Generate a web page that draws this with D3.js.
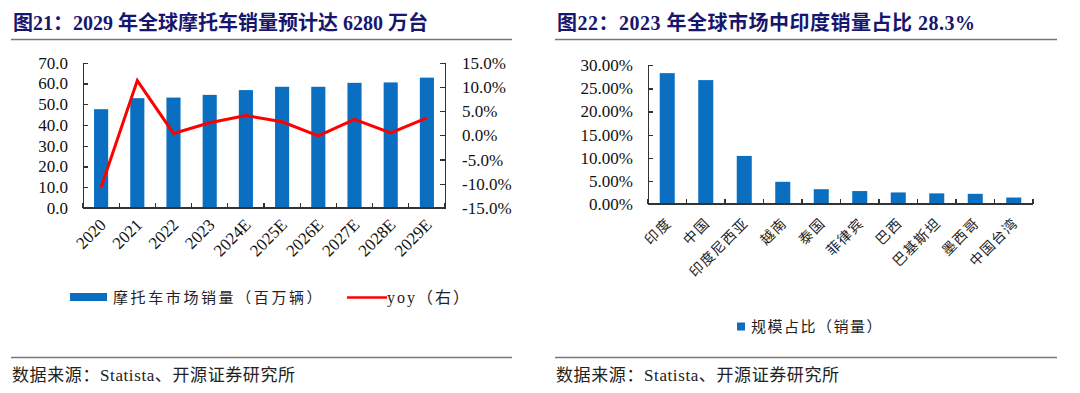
<!DOCTYPE html>
<html lang="zh">
<head>
<meta charset="UTF-8">
<title>摩托车销量</title>
<style>
    body { margin: 0; background: #fff; }
    svg { display: block; }
    .title { font-family: "Liberation Serif", "Noto Sans CJK SC", serif; font-weight: 700; font-size: 20px; fill: #16166f; }
    .tick text, .num { font-family: "Liberation Serif", serif; font-size: 17px; fill: #111; }
    .cjk { font-family: "Liberation Serif", "Noto Sans CJK SC", serif; fill: #222; }
    .axis path, .axis line { stroke: #333; stroke-width: 1.2; shape-rendering: crispEdges; }
</style>
</head>
<body>
<svg width="1080" height="393"></svg>
<script src="https://d3js.org/d3.v7.min.js"></script>
<script>
    // chart 1
    const years = ["2020", "2021", "2022", "2023", "2024E", "2025E", "2026E", "2027E", "2028E", "2029E"];
    const sales = [47.6, 52.9, 53.2, 54.5, 56.8, 58.4, 58.4, 60.3, 60.5, 62.8];
    const yoy = [-10.7, 11.3, 0.4, 2.6, 4.1, 2.8, -0.1, 3.3, 0.5, 3.6];
    const salesTicks = [0, 10, 20, 30, 40, 50, 60, 70];
    const yoyTicks = [-15, -10, -5, 0, 5, 10, 15];

    // chart 2
    const countries = ["印度", "中国", "印度尼西亚", "越南", "泰国", "菲律宾", "巴西", "巴基斯坦", "墨西哥", "中国台湾"];
    const shares = [28.3, 26.8, 10.4, 4.8, 3.2, 2.8, 2.5, 2.3, 2.2, 1.4];
    const shareTicks = [0, 5, 10, 15, 20, 25, 30];

    const blue = "#0a6fc0";
    const red = "#ff0000";

    const svg = d3.select("svg");
    svg.append("rect").attr("width", 1080).attr("height", 393).attr("fill", "#fff");

    function header(x0, x1, text, spacing) {
        svg.append("text").attr("class", "title")
            .attr("x", x0 + 2).attr("y", 30)
            .style("letter-spacing", spacing + "px")
            .text(text);
        svg.append("line").attr("x1", x0).attr("x2", x1).attr("y1", 39.5).attr("y2", 39.5)
            .attr("stroke", "#777").attr("stroke-width", 1.6);
        svg.append("line").attr("x1", x0).attr("x2", x1).attr("y1", 357.5).attr("y2", 357.5)
            .attr("stroke", "#777").attr("stroke-width", 1.6);
        svg.append("text").attr("class", "cjk")
            .attr("x", x0 + 1).attr("y", 381)
            .style("font-size", "17px").style("letter-spacing", "0.6px")
            .text("数据来源：Statista、开源证券研究所");
    }

    header(11, 512, "图21：2029 年全球摩托车销量预计达 6280 万台", 0);
    header(555, 1057, "图22：2023 年全球市场中印度销量占比 28.3%", 0.5);

    // ---- left chart ----
    const L = {left: 83, right: 445, top: 62.7, bottom: 208};
    const x1 = d3.scaleBand().domain(years).range([L.left, L.right]);
    const yL = d3.scaleLinear().domain([0, 70]).range([L.bottom, L.top]);
    const yR = d3.scaleLinear().domain([-15, 15]).range([L.bottom, L.top]);
    const bw1 = x1.bandwidth() * 0.39;

    const g1 = svg.append("g");
    g1.selectAll(".bar").data(years).join("rect")
        .attr("class", "bar")
        .attr("x", d => x1(d) + (x1.bandwidth() - bw1) / 2)
        .attr("width", bw1)
        .attr("y", (d, i) => yL(sales[i]))
        .attr("height", (d, i) => yL(0) - yL(sales[i]))
        .attr("fill", blue);

    g1.append("g").attr("class", "axis")
        .attr("transform", `translate(${L.left},0)`)
        .call(d3.axisLeft(yL).tickValues(salesTicks).tickFormat(d => d.toFixed(1))
            .tickSizeInner(-5).tickSizeOuter(0).tickPadding(15));

    g1.append("g").attr("class", "axis")
        .attr("transform", `translate(${L.right},0)`)
        .call(d3.axisRight(yR).tickValues(yoyTicks).tickFormat(d => d.toFixed(1) + "%")
            .tickSizeInner(-5).tickSizeOuter(0).tickPadding(17));

    function bottomAxis(g, x, y0, labels, cls, dx, dy) {
        const ax = g.append("g").attr("class", "axis");
        ax.append("line").attr("x1", x.range()[0]).attr("x2", x.range()[1])
            .attr("y1", y0).attr("y2", y0);
        const bounds = x.domain().map(d => x(d)).concat([x.range()[1]]);
        ax.selectAll(".bt").data(bounds).join("line")
            .attr("x1", d => d).attr("x2", d => d)
            .attr("y1", y0).attr("y2", y0 - 5);
        g.selectAll("." + cls).data(labels).join("text")
            .attr("class", cls)
            .attr("text-anchor", "end")
            .attr("transform", d => `translate(${x(d) + x.bandwidth() / 2 + dx},${y0 + dy}) rotate(-45)`)
            .text(d => d);
    }

    bottomAxis(g1, x1, L.bottom, years, "num xl", 6, 18);

    const line = d3.line()
        .x((d, i) => x1(years[i]) + x1.bandwidth() / 2)
        .y(d => yR(d));
    g1.append("path").datum(yoy)
        .attr("d", line)
        .attr("fill", "none")
        .attr("stroke", red)
        .attr("stroke-width", 3)
        .attr("stroke-linejoin", "miter");

    // left legend
    g1.append("rect").attr("x", 70).attr("y", 293).attr("width", 37).attr("height", 8).attr("fill", blue);
    g1.append("text").attr("class", "cjk").attr("x", 113).attr("y", 303)
        .style("font-size", "15px").style("letter-spacing", "2.6px")
        .text("摩托车市场销量（百万辆）");
    g1.append("line").attr("x1", 347).attr("x2", 387).attr("y1", 297.5).attr("y2", 297.5)
        .attr("stroke", red).attr("stroke-width", 2.5);
    g1.append("text").attr("class", "cjk").attr("x", 387).attr("y", 303)
        .style("font-size", "16px").style("letter-spacing", "2px")
        .text("yoy（右）");

    // ---- right chart ----
    const R = {left: 648, right: 1033, top: 65.3, bottom: 204};
    const x2 = d3.scaleBand().domain(countries).range([R.left, R.right]);
    const y2 = d3.scaleLinear().domain([0, 30]).range([R.bottom, R.top]);
    const bw2 = x2.bandwidth() * 0.39;

    const g2 = svg.append("g");
    g2.selectAll(".bar").data(countries).join("rect")
        .attr("class", "bar")
        .attr("x", d => x2(d) + (x2.bandwidth() - bw2) / 2)
        .attr("width", bw2)
        .attr("y", (d, i) => y2(shares[i]))
        .attr("height", (d, i) => y2(0) - y2(shares[i]))
        .attr("fill", blue);

    g2.append("g").attr("class", "axis")
        .attr("transform", `translate(${R.left},0)`)
        .call(d3.axisLeft(y2).tickValues(shareTicks).tickFormat(d => d.toFixed(2) + "%")
            .tickSizeInner(-5).tickSizeOuter(0).tickPadding(15));

    bottomAxis(g2, x2, R.bottom, countries, "cjk xl2", 5, 20);
    g2.selectAll(".xl2").style("font-size", "14px").style("letter-spacing", "1.3px");

    // right legend
    g2.append("rect").attr("x", 737).attr("y", 322.5).attr("width", 8).attr("height", 8).attr("fill", blue);
    g2.append("text").attr("class", "cjk").attr("x", 751).attr("y", 332)
        .style("font-size", "15px").style("letter-spacing", "1.5px")
        .text("规模占比（销量）");
</script>
</body>
</html>
